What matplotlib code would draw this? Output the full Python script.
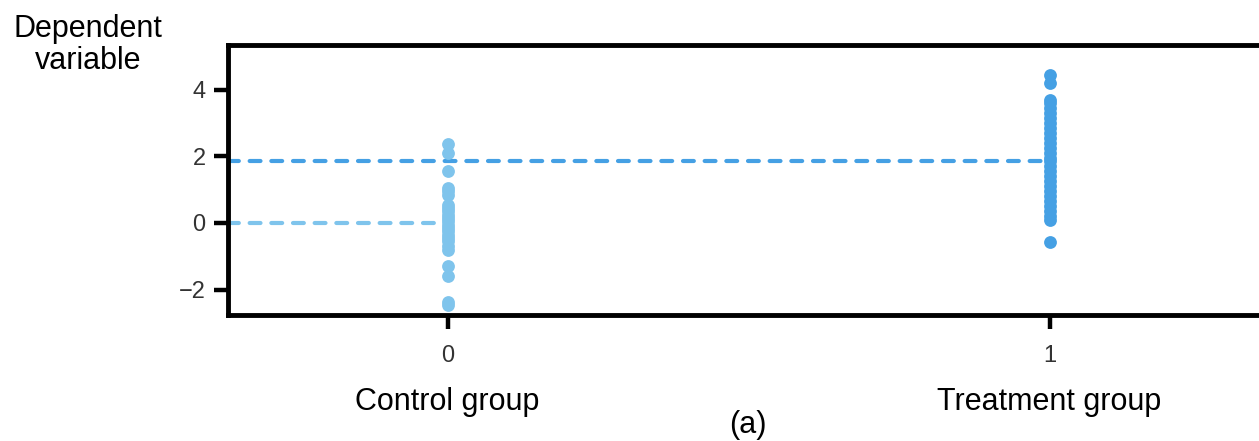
import numpy as np
import matplotlib.pyplot as plt

plt.rcParams['font.family'] = ['Liberation Sans', 'DejaVu Sans']

groups = [0, 1]
group_names = ['Control group', 'Treatment group']
control = [2.37, 2.1, 1.55, 1.05, 0.95, 0.85, 0.55, 0.45, 0.35, 0.25, 0.15, 0.05,
           -0.05, -0.15, -0.25, -0.35, -0.45, -0.55, -0.7, -0.8, -1.3, -1.6, -2.37, -2.45]
treatment = [4.44, 4.2, 3.7, 3.6, 3.45, 3.3, 3.15, 3.0, 2.85, 2.7, 2.55, 2.4, 2.25,
             2.1, 1.95, 1.85, 1.7, 1.55, 1.4, 1.25, 1.1, 0.95, 0.8, 0.65, 0.5, 0.35,
             0.2, 0.1, -0.57]
control_mean = 0.0
treatment_mean = 1.85
yticks = [-2, 0, 2, 4]

c_light = '#7fc4ec'
c_dark = '#45a0e4'

fig = plt.figure(figsize=(12.59, 4.41), dpi=100)
ax = fig.add_axes([0.181, 0.286, 0.832, 0.612])

xmin, xmax = -0.365, 1.375
ax.plot([xmin, groups[1]], [treatment_mean, treatment_mean], color=c_dark, lw=3,
        ls=(0, (2.6, 2.6)), dash_capstyle='round', zorder=2)
ax.plot([xmin, groups[0]], [control_mean, control_mean], color=c_light, lw=3,
        ls=(0, (2.6, 2.6)), dash_capstyle='round', zorder=2)
ax.scatter([groups[0]] * len(control), control, s=85, color=c_light, lw=0, zorder=3)
ax.scatter([groups[1]] * len(treatment), treatment, s=85, color=c_dark, lw=0, zorder=3)

ax.set_xlim(xmin, xmax)
ax.set_ylim(-2.76, 5.34)
ax.set_xticks(groups)
ax.set_yticks(yticks)
ax.set_yticklabels(['\u22122', '0', '2', '4'])
for s in ax.spines.values():
    s.set_linewidth(3.5)
ax.tick_params(length=10, width=3.2, labelsize=17, labelcolor='#333333', pad=6)
ax.tick_params(axis='x', pad=12)

fig.text(88 / 1259, 1 - 45 / 441, 'Dependent\nvariable', ha='center', va='center',
         fontsize=22, linespacing=1.1)
for g, name in zip(groups, group_names):
    xf = ax.transData.transform((g, 0))[0] / fig.bbox.width
    fig.text(xf, 1 - 402 / 441, name, ha='center', va='center', fontsize=22)
fig.text(748 / 1259, 1 - 425 / 441, '(a)', ha='center', va='center', fontsize=22)

fig.savefig('out.png', dpi=100)
